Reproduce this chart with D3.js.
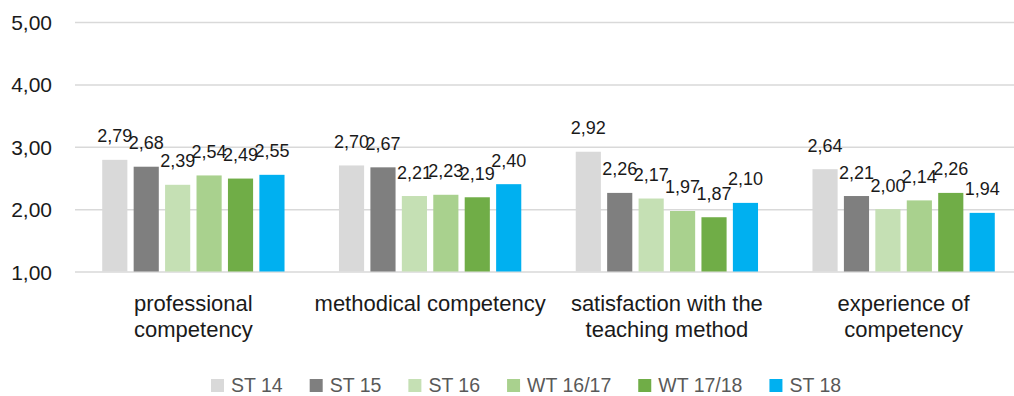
<!DOCTYPE html>
<html>
<head>
<meta charset="utf-8">
<script src="https://cdn.jsdelivr.net/npm/d3@7"></script>
<style>
  html, body { margin: 0; padding: 0; background: #fff; }
  svg { display: block; font-family: "Liberation Sans", Arial, sans-serif; }
</style>
</head>
<body>
<svg id="chart" width="1014" height="396"></svg>
<script>
// Category labels (line-broken as shown under the axis)
const categories = [
  "professional competency",
  "methodical competency",
  "satisfaction with the teaching method",
  "experience of competency"
];
const categoryLines = [
  ["professional", "competency"],
  ["methodical competency"],
  ["satisfaction with the", "teaching method"],
  ["experience of", "competency"]
];

// Survey terms
const series = ["ST 14", "ST 15", "ST 16", "WT 16/17", "WT 17/18", "ST 18"];
const colors = ["#d9d9d9", "#7f7f7f", "#c5e0b4", "#a9d18e", "#70ad47", "#00b0f0"];

// Mean ratings per term, one entry per category
const st14   = [2.79, 2.70, 2.92, 2.64];
const st15   = [2.68, 2.67, 2.26, 2.21];
const st16   = [2.39, 2.21, 2.17, 2.00];
const wt1617 = [2.54, 2.23, 1.97, 2.14];
const wt1718 = [2.49, 2.19, 1.87, 2.26];
const st18   = [2.55, 2.40, 2.10, 1.94];
const values = [st14, st15, st16, wt1617, wt1718, st18];

const yTicks = [1, 2, 3, 4, 5];

const fmt = v => v.toFixed(2).replace(".", ",");

const svg = d3.select("#chart");

const y = d3.scaleLinear().domain([1, 5]).range([271.5, 22]);
const x0 = d3.scaleBand().domain(categories).range([75, 1022])
  .paddingInner(0.23).paddingOuter(0.115);
const x1 = d3.scaleBand().domain(series).range([0, x0.bandwidth()]).paddingInner(0.2);

// Horizontal gridlines and value axis labels
const yAxis = d3.axisLeft(y).tickValues(yTicks).tickSize(-(1022 - 75)).tickFormat(fmt);
const gy = svg.append("g").attr("transform", "translate(75,0)").call(yAxis);
gy.select(".domain").remove();
gy.selectAll(".tick line").attr("stroke", "#d9d9d9").attr("stroke-width", 1.5);
gy.selectAll(".tick text")
  .attr("x", -23)
  .attr("dy", "0.36em")
  .attr("fill", "#1a1a1a")
  .style("font-size", "21px")
  .style("font-family", "'Liberation Sans', Arial, sans-serif");

// Bars
const rows = [];
series.forEach((s, si) => {
  categories.forEach((c, ci) => {
    rows.push({ s, c, si, v: values[si][ci] });
  });
});

svg.append("g").selectAll("rect").data(rows).join("rect")
  .attr("x", d => x0(d.c) + x1(d.s))
  .attr("y", d => y(d.v))
  .attr("width", x1.bandwidth())
  .attr("height", d => y(1) - y(d.v))
  .attr("fill", d => colors[d.si]);

// Value labels above bars
svg.append("g").selectAll("text").data(rows).join("text")
  .attr("x", d => x0(d.c) + x1(d.s) + x1.bandwidth() / 2)
  .attr("y", d => y(d.v) - 17.5)
  .attr("text-anchor", "middle")
  .attr("fill", "#1a1a1a")
  .style("font-size", "18px")
  .text(d => fmt(d.v));

// Category labels
const catG = svg.append("g");
categories.forEach((c, i) => {
  const cx = x0(c) + x0.bandwidth() / 2;
  const t = catG.append("text")
    .attr("x", cx)
    .attr("y", 311)
    .attr("text-anchor", "middle")
    .attr("fill", "#1a1a1a")
    .style("font-size", "22px");
  categoryLines[i].forEach((line, li) => {
    t.append("tspan")
      .attr("x", cx)
      .attr("dy", li === 0 ? 0 : 26)
      .text(line);
  });
});

// Legend
const legend = svg.append("g");
let lx = 211;
series.forEach((s, i) => {
  const g = legend.append("g").attr("transform", `translate(${lx},0)`);
  g.append("rect").attr("x", 0).attr("y", 379).attr("width", 13).attr("height", 13)
    .attr("fill", colors[i]);
  const t = g.append("text").attr("x", 20).attr("y", 392)
    .attr("fill", "#595959")
    .style("font-size", "19.5px")
    .text(s);
  lx += 20 + t.node().getComputedTextLength() + 27;
});
</script>
</body>
</html>
